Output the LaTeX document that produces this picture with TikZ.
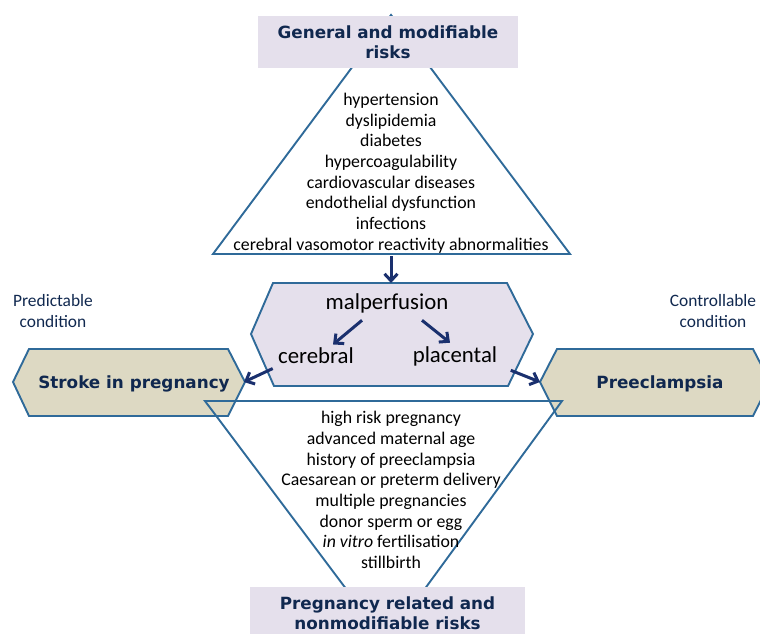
\documentclass[tikz,border=0pt]{standalone}
\usepackage{fontspec}
\setmainfont{Carlito}
\newfontfamily\headfont{DejaVu Sans}
\usetikzlibrary{arrows.meta,positioning}
\definecolor{lavfill}{HTML}{E5E0EC}
\definecolor{beigefill}{HTML}{DDD9C3}
\definecolor{edgeblue}{HTML}{2F6A99}
\definecolor{headnavy}{HTML}{10284F}
\definecolor{arrownavy}{HTML}{1A306E}

\begin{document}
\begin{tikzpicture}[x=1pt,y=-1pt,
  edgeline/.style={draw=edgeblue,line width=1.9pt,line join=miter},
  head/.style={font=\headfont\bfseries\fontsize{16.8}{20.5}\selectfont,text=headnavy,align=center},
  risk/.style={font=\fontsize{17.8}{20.7}\selectfont,align=center},
  side/.style={font=\fontsize{17.4}{21}\selectfont,text=headnavy,align=center},
  centre/.style={font=\fontsize{22.8}{26}\selectfont},
  flow/.style={draw=arrownavy,line width=3pt,-{Straight Barb[length=7pt,width=13pt]}}]
\useasboundingbox (0,0) rectangle (760,633);

% Hexagons
\draw[edgeline,fill=beigefill] (13,382) -- (29,349) -- (228,349) -- (245,382) -- (228,416) -- (29,416) -- cycle;
\draw[edgeline,fill=beigefill] (540,382) -- (557,349) -- (753,349) -- (770,382) -- (753,416) -- (557,416) -- cycle;
\draw[edgeline,fill=lavfill] (251,334) -- (273,283) -- (507,283) -- (533,334) -- (508,386) -- (274,386) -- cycle;
\coordinate (strokeR) at (244,382);
\coordinate (preeL) at (540,382);
\coordinate (hexN) at (391,283);

% Triangles
\draw[edgeline] (391,15) -- (213,254) -- (570,254) -- cycle;
\draw[edgeline] (205,401) -- (562,401) -- (386,642) -- cycle;
\coordinate (baseC) at (391,256);

% Boxes
\node[head,fill=lavfill,minimum width=260pt,minimum height=52pt] (general) at (388,42) {General and modifiable\\risks};
\node[head,fill=lavfill,minimum width=275pt,minimum height=52pt] (pregrisk) at (387.5,613) {Pregnancy related and\\nonmodifiable risks};

% Risk lists
\node[risk] (modlist) at (391,173) {hypertension\\dyslipidemia\\diabetes\\hypercoagulability\\cardiovascular diseases\\endothelial dysfunction\\infections\\cerebral vasomotor reactivity abnormalities};
\node[risk] (nonmodlist) at (391,490) {high risk pregnancy\\advanced maternal age\\history of preeclampsia\\Caesarean or preterm delivery\\multiple pregnancies\\donor sperm or egg\\\textit{in vitro} fertilisation\\stillbirth};

% Centre
\node[centre] (malp) at (387,303) {malperfusion};
\node[centre] (cer) at (316,356) {cerebral};
\node[centre] (plac) at (455,356) {placental};

% Outcomes
\node[head] (stroke) at (134,384) {Stroke in pregnancy};
\node[head] (pree) at (660,384) {Preeclampsia};
\node[side] (predict) at (53,311) {Predictable\\condition};
\node[side] (control) at (713,311) {Controllable\\condition};

% Arrows
\draw[flow] (baseC) -- (hexN);
\draw[flow] ([shift={(-25,4)}]malp.south) -- ([shift={(17,0)}]cer.north);
\draw[flow] ([shift={(35,4)}]malp.south) -- ([shift={(-5,0)}]plac.north);
\draw[flow] ([shift={(-2,1)}]cer.south west) -- (strokeR);
\draw[flow] ([shift={(10,1)}]plac.south east) -- (preeL);
\end{tikzpicture}
\end{document}
